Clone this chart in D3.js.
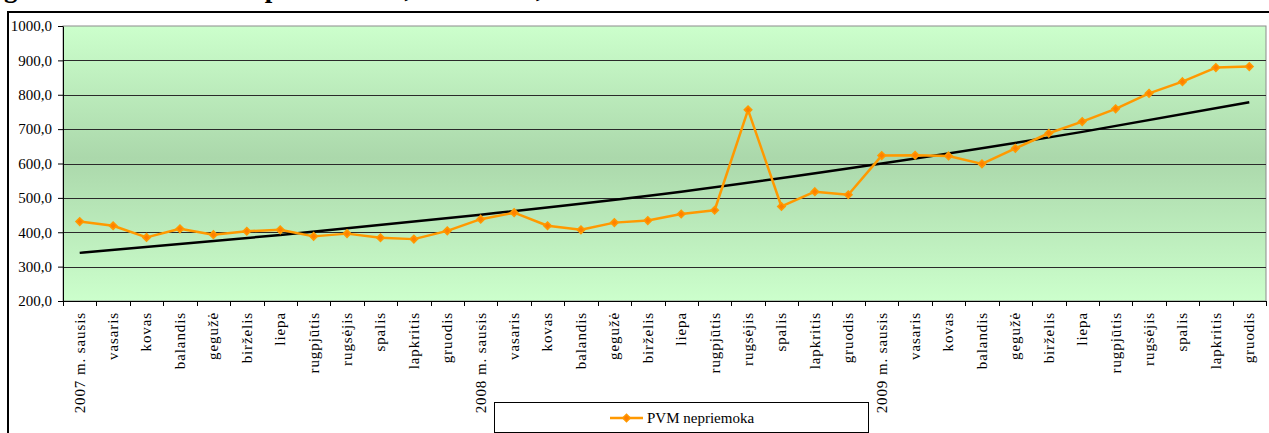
<!DOCTYPE html>
<html>
<head>
<meta charset="utf-8">
<script src="https://cdn.jsdelivr.net/npm/d3@7"></script>
<style>
  body { margin: 0; background: #fff; }
  svg { display: block; }
  svg text { font-family: "Liberation Serif", "Times New Roman", "DejaVu Serif", serif; }
</style>
</head>
<body>
<div id="chart"></div>
<script>
// Months (Lithuanian), the first of each year carries the year
const categories = [
  "2007 m. sausis", "vasaris", "kovas", "balandis", "gegužė", "birželis",
  "liepa", "rugpjūtis", "rugsėjis", "spalis", "lapkritis", "gruodis",
  "2008 m. sausis", "vasaris", "kovas", "balandis", "gegužė", "birželis",
  "liepa", "rugpjūtis", "rugsėjis", "spalis", "lapkritis", "gruodis",
  "2009 m. sausis", "vasaris", "kovas", "balandis", "gegužė", "birželis",
  "liepa", "rugpjūtis", "rugsėjis", "spalis", "lapkritis", "gruodis"
];

// PVM nepriemoka
const vatArrears = [
  431, 419, 385, 410, 393, 403, 407, 388, 396, 384, 380, 404,
  438, 457, 419, 407, 428, 434, 453, 464, 756, 475, 518, 509,
  623, 624, 622, 599, 644, 688, 722, 759, 804, 838, 879, 882
];

// trend curve (exponential in the original), read at a few months
const trendIndex = [0, 6, 12, 18, 24, 30, 35];
const trendValues = [340, 392, 451, 518, 600, 692, 778];

const yTicks = [200, 300, 400, 500, 600, 700, 800, 900, 1000];
const seriesName = "PVM nepriemoka";
const title = "grafikas. PVM nepriemoka, mln. Lt, ir tendencinė kreivė";

const width = 1269, height = 433;
const plot = { left: 63, right: 1266, top: 26, bottom: 301 };

const svg = d3.select("#chart").append("svg")
  .attr("width", width)
  .attr("height", height);

// gradient for the plot area
const grad = svg.append("defs").append("linearGradient")
  .attr("id", "bg").attr("x1", 0).attr("y1", 0).attr("x2", 0).attr("y2", 1);
grad.append("stop").attr("offset", "0%").attr("stop-color", "#ccffcc");
grad.append("stop").attr("offset", "48%").attr("stop-color", "#abd8ab");
grad.append("stop").attr("offset", "100%").attr("stop-color", "#ccffcc");

// title (cut off above the picture, only the descenders show)
svg.append("text")
  .attr("x", 4).attr("y", -3)
  .attr("font-size", 27)
  .attr("font-weight", "bold")
  .attr("letter-spacing", 3.6)
  .text(title);

// chart border
svg.append("rect")
  .attr("x", 8).attr("y", 12)
  .attr("width", 1300).attr("height", 500)
  .attr("fill", "#fff")
  .attr("stroke", "#000")
  .attr("stroke-width", 2);

const x = d3.scaleBand()
  .domain(d3.range(categories.length))
  .range([plot.left, plot.right])
  .padding(0);

const y = d3.scaleLinear()
  .domain([200, 1000])
  .range([plot.bottom, plot.top]);

const cx = i => x(i) + x.bandwidth() / 2;

// plot area
svg.append("rect")
  .attr("x", plot.left).attr("y", plot.top)
  .attr("width", plot.right - plot.left)
  .attr("height", plot.bottom - plot.top)
  .attr("fill", "url(#bg)")
  .attr("stroke", "#8c8c8c")
  .attr("stroke-width", 1);

// horizontal gridlines
svg.append("g")
  .selectAll("line")
  .data(yTicks.slice(1, -1))
  .enter().append("line")
  .attr("x1", plot.left).attr("x2", plot.right)
  .attr("y1", d => Math.round(y(d)) + 0.5)
  .attr("y2", d => Math.round(y(d)) + 0.5)
  .attr("stroke", "#2a2a2a")
  .attr("stroke-width", 1);

// y axis
const yAxis = svg.append("g")
  .attr("transform", `translate(${plot.left},0)`)
  .call(d3.axisLeft(y)
    .tickValues(yTicks)
    .tickSize(5)
    .tickSizeOuter(0)
    .tickPadding(6)
    .tickFormat(d => d3.format(".1f")(d).replace(".", ",")));
yAxis.attr("font-family", null);
yAxis.select(".domain").attr("stroke", "#000");
yAxis.selectAll("text")
  .attr("font-size", 15)
  .attr("fill", "#000");

// x axis line and ticks between categories
svg.append("line")
  .attr("x1", plot.left).attr("x2", plot.right)
  .attr("y1", plot.bottom + 0.5).attr("y2", plot.bottom + 0.5)
  .attr("stroke", "#000");

svg.append("g")
  .selectAll("line")
  .data(d3.range(categories.length + 1))
  .enter().append("line")
  .attr("x1", i => Math.round(plot.left + i * x.bandwidth()) + 0.5)
  .attr("x2", i => Math.round(plot.left + i * x.bandwidth()) + 0.5)
  .attr("y1", plot.bottom)
  .attr("y2", plot.bottom + 5)
  .attr("stroke", "#000");

svg.append("g")
  .selectAll("text")
  .data(categories)
  .enter().append("text")
  .attr("transform", (d, i) => `translate(${cx(i)},${plot.bottom + 11}) rotate(-90)`)
  .attr("text-anchor", "end")
  .attr("dy", "0.33em")
  .attr("font-size", 15)
  .attr("letter-spacing", 0.9)
  .text(d => d);

// trend curve
const trendLine = d3.line()
  .x((d, i) => cx(trendIndex[i]))
  .y(d => y(d))
  .curve(d3.curveMonotoneX);
svg.append("path")
  .datum(trendValues)
  .attr("d", trendLine)
  .attr("fill", "none")
  .attr("stroke", "#000")
  .attr("stroke-width", 2.5);

// series line
const line = d3.line()
  .x((d, i) => cx(i))
  .y(d => y(d));
svg.append("path")
  .datum(vatArrears)
  .attr("d", line)
  .attr("fill", "none")
  .attr("stroke", "#ff9900")
  .attr("stroke-width", 2.5)
  .attr("stroke-linejoin", "round");

const diamond = d3.symbol().type(d3.symbolDiamond2).size(36);
svg.append("g")
  .selectAll("path")
  .data(vatArrears)
  .enter().append("path")
  .attr("d", diamond)
  .attr("transform", (d, i) => `translate(${cx(i)},${y(d)})`)
  .attr("fill", "#ff8000")
  .attr("stroke", "#ff9900")
  .attr("stroke-width", 1.5);

// legend
const legend = svg.append("g").attr("transform", "translate(494,402)");
legend.append("rect")
  .attr("x", 0.5).attr("y", 0.5)
  .attr("width", 374).attr("height", 30)
  .attr("fill", "#fff")
  .attr("stroke", "#000");
legend.append("line")
  .attr("x1", 116).attr("x2", 149)
  .attr("y1", 16).attr("y2", 16)
  .attr("stroke", "#ff9900")
  .attr("stroke-width", 2.5);
legend.append("path")
  .attr("d", diamond)
  .attr("transform", "translate(132.5,16)")
  .attr("fill", "#ff8000")
  .attr("stroke", "#ff9900")
  .attr("stroke-width", 1.5);
legend.append("text")
  .attr("x", 153).attr("y", 16)
  .attr("dy", "0.35em")
  .attr("font-size", 15)
  .text(seriesName);
</script>
</body>
</html>
